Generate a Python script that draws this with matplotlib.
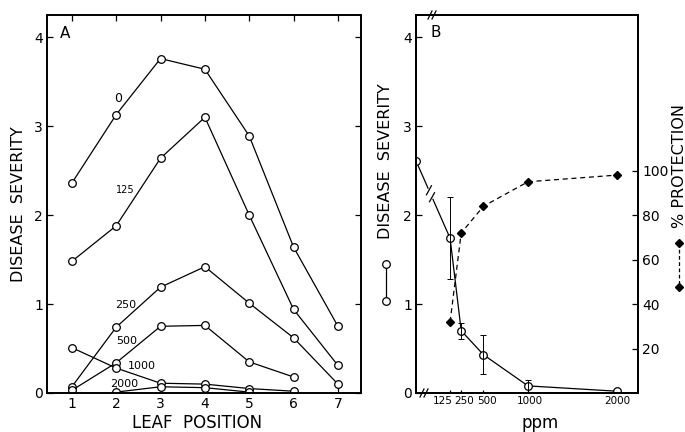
import numpy as np
import matplotlib
matplotlib.use('Agg')
import matplotlib.pyplot as plt
from matplotlib.lines import Line2D
from matplotlib.transforms import offset_copy

# Panel A: disease severity by leaf position for each concentration (ppm)
leaf_pos = [1, 2, 3, 4, 5, 6, 7]
sev_0 = [2.36, 3.13, 3.76, 3.64, 2.89, 1.64, 0.75]
sev_125 = [1.48, 1.88, 2.64, 3.10, 2.00, 0.94, 0.31]
sev_250 = [0.07, 0.74, 1.19, 1.42, 1.01, 0.62, 0.10]
sev_500 = [0.03, 0.34, 0.75, 0.76, 0.35, 0.18, np.nan]
sev_1000 = [0.51, 0.28, 0.11, 0.10, 0.05, 0.02, np.nan]
sev_2000 = [np.nan, 0.01, 0.07, 0.06, 0.01, np.nan, np.nan]
series_names = ['0', '125', '250', '500', '1000', '2000']

# Panel B: mean severity and % protection vs concentration
ppm = [125, 250, 500, 1000, 2000]
control_sev = 2.61
mean_sev = [1.74, 0.70, 0.43, 0.08, 0.02]
sev_err = [0.46, 0.09, 0.22, 0.07, 0.0]
protection = [32, 72, 84, 95, 98]

plt.rcParams['font.family'] = 'DejaVu Sans'

fig = plt.figure(figsize=(6.85, 4.32), dpi=100)
W, H = 685.0, 432.0
axA = fig.add_axes([47 / W, 1 - 393 / H, (361 - 47) / W, (393 - 15) / H])
axB = fig.add_axes([416 / W, 1 - 393 / H, (638 - 416) / W, (393 - 15) / H])

mk = dict(marker='o', ms=5.5, mfc='white', mec='black', mew=0.9, color='black', lw=0.9)

# ---- Panel A
for vals in [sev_0, sev_125, sev_250, sev_500, sev_1000, sev_2000]:
    axA.plot(leaf_pos, vals, **mk)

label_pos = [(2.04, 3.31, 9), (2.20, 2.28, 7), (2.22, 0.99, 8),
             (2.24, 0.58, 8), (2.58, 0.30, 8), (2.17, 0.10, 8)]
for name, (lx, ly, fs) in zip(series_names, label_pos):
    axA.text(lx, ly, name, fontsize=fs, ha='center', va='center')

axA.set_xlim(0.44, 7.52)
axA.set_ylim(0, 4.25)
axA.set_xticks(leaf_pos)
axA.set_yticks([0, 1, 2, 3, 4])
axA.tick_params(direction='in', top=True, right=True, length=4, width=0.9,
                labelsize=10, pad=3)
for s in axA.spines.values():
    s.set_linewidth(1.4)
axA.text(0.04, 0.95, 'A', transform=axA.transAxes, fontsize=11, ha='left', va='center')
axA.set_ylabel('DISEASE  SEVERITY', fontsize=11.5, labelpad=6)
fig.text(197 / W, 1 - 423 / H, 'LEAF  POSITION', fontsize=12, ha='center', va='center')

# ---- Panel B
xl = (-258, 2236)
axB.set_xlim(*xl)
axB.set_ylim(0, 4.25)
xs = [xl[0]] + ppm
ys = [control_sev] + mean_sev
axB.plot(xs, ys, **mk)
axB.errorbar(ppm[:4], mean_sev[:4], yerr=sev_err[:4], fmt='none', ecolor='black',
             elinewidth=0.7, capsize=2.5, capthick=0.7)

# break marks on the control segment (drawn in display pixels)
p0 = axB.transData.transform((xs[0], ys[0]))
p1 = axB.transData.transform((xs[1], ys[1]))
g0 = p0 + 0.38 * (p1 - p0)
g1 = p0 + 0.47 * (p1 - p0)
fig.add_artist(Line2D([g0[0], g1[0]], [g0[1], g1[1]], color='white', lw=2.5,
                      transform=None, zorder=5))
for g in (g0, g1):
    fig.add_artist(Line2D([g[0] - 2.5, g[0] + 2.5], [g[1] - 4.5, g[1] + 4.5],
                          color='black', lw=0.9, transform=None, zorder=6))

axB.set_xticks(ppm)
axB.set_xticklabels([])
lbl_shift = [-7, 3, 4, 2, 0]
for p, dx in zip(ppm, lbl_shift):
    tr = offset_copy(axB.get_xaxis_transform(), fig=fig, x=dx, y=-3, units='dots')
    axB.text(p, 0, str(p), transform=tr, fontsize=7.5, ha='center', va='top')
axB.set_yticks([0, 1, 2, 3, 4])
axB.tick_params(direction='in', length=4, width=0.9, labelsize=10, pad=3)
axB.tick_params(axis='x', length=2)
for s in axB.spines.values():
    s.set_linewidth(1.4)
axB.text(0.065, 0.955, 'B', transform=axB.transAxes, fontsize=11, ha='left', va='center')

axR = axB.twinx()
axR.set_ylim(0, 4.25 * 40)
axR.plot(ppm, protection, color='black', ls=(0, (4, 3)), lw=0.9,
         marker='D', ms=4.5, mfc='black', mec='black')
axR.set_yticks([20, 40, 60, 80, 100])
axR.tick_params(direction='in', length=4, width=0.9, labelsize=10, pad=3)
for s in axR.spines.values():
    s.set_linewidth(1.4)

fig.text(540 / W, 1 - 423 / H, 'ppm', fontsize=12, ha='center', va='center')

# axis break marks on B frame
for (px, py) in [(424, 393), (432, 15)]:
    for d in (-2, 2):
        fig.add_artist(Line2D([(px + d - 2) / W, (px + d + 2) / W],
                              [1 - (py + 4) / H, 1 - (py - 4) / H],
                              color='black', lw=0.9))

# side legends
fig.text(385 / W, 1 - 161 / H, 'DISEASE  SEVERITY', rotation=90, fontsize=11.5,
         ha='center', va='center')
fig.add_artist(Line2D([386 / W, 386 / W], [1 - 264 / H, 1 - 301 / H], **mk))
fig.text(679 / W, 1 - 166 / H, '% PROTECTION', rotation=90, fontsize=11.5,
         ha='center', va='center')
fig.add_artist(Line2D([679 / W, 679 / W], [1 - 243 / H, 1 - 287 / H], color='black',
                      ls=(0, (3, 2)), lw=0.9, marker='D', ms=4, mfc='black', mec='black'))

fig.savefig('out.png', dpi=100)
